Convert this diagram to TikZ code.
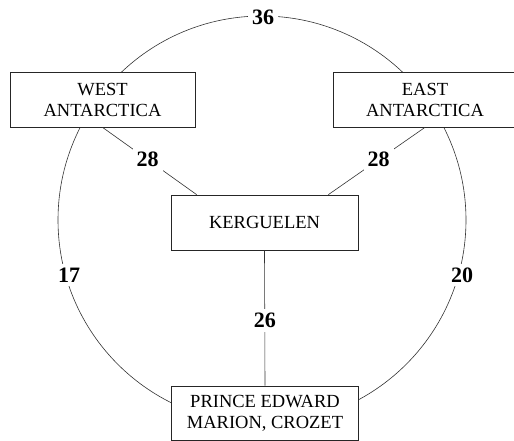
\documentclass[tikz,border=0pt]{standalone}
\usepackage{fontspec}
\setmainfont{Liberation Serif}
\begin{document}
\begin{tikzpicture}[x=1pt,y=-1pt,
  box/.style={draw=black!85,line width=0.7pt,fill=white,align=center,inner sep=0pt,
    font=\fontsize{18.5}{21}\selectfont},
  lab/.style={fill=white,inner sep=4pt,font=\fontsize{22}{24}\selectfont\bfseries},
  link/.style={draw=black!80,line width=0.6pt}]
\useasboundingbox (0,0) rectangle (514,441);
% outer ring
\draw[link] (262,220) circle[radius=204];
\node[lab] (l36) at (263,17) {36};
\node[lab] (l17) at (69,275) {17};
\node[lab] (l20) at (462,275) {20};
% boxes
\node[box,minimum width=185,minimum height=55] (west) at (102.5,99.5) {WEST\\ANTARCTICA};
\node[box,minimum width=184,minimum height=55] (east) at (425,99.5) {EAST\\ANTARCTICA};
\node[box,minimum width=187,minimum height=55] (kerg) at (264.5,222.5) {KERGUELEN};
\node[box,minimum width=187,minimum height=54] (prince) at (265,413) {PRINCE EDWARD\\MARION, CROZET};
% spokes
\draw[link] (west.south) -- node[lab,pos=0.48] (l28a) {28} ([xshift=26]kerg.north west);
\draw[link] (east.south) -- node[lab,pos=0.48] (l28b) {28} ([xshift=-30]kerg.north east);
\draw[link] (kerg.south) -- node[lab,pos=0.52] (l26) {26} (prince.north);
\end{tikzpicture}
\end{document}
